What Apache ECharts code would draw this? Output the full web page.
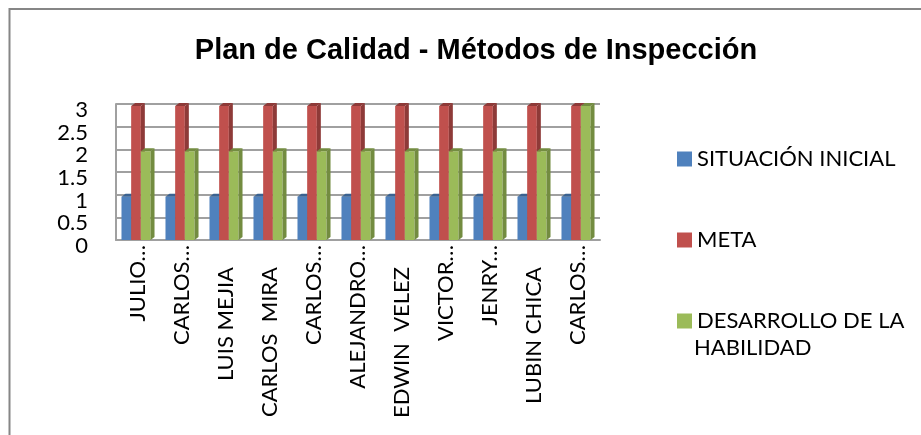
<!DOCTYPE html>
<html>
<head>
<meta charset="utf-8">
<script src="https://cdn.jsdelivr.net/npm/echarts@6/dist/echarts.min.js"></script>
<style>
  html, body { margin: 0; padding: 0; background: #fff; }
  #chart { width: 921px; height: 435px; }
</style>
</head>
<body>
<div id="chart"></div>
<script>
// datos del grafico
var categorias = ['JULIO…', 'CARLOS…', 'LUIS MEJIA', 'CARLOS  MIRA', 'CARLOS…', 'ALEJANDRO…',
                  'EDWIN  VELEZ', 'VICTOR…', 'JENRY…', 'LUBIN CHICA', 'CARLOS…'];
var nombres = ['SITUACIÓN INICIAL', 'META', 'DESARROLLO DE LA HABILIDAD'];
var situacionInicial = [1, 1, 1, 1, 1, 1, 1, 1, 1, 1, 1];
var meta = [3, 3, 3, 3, 3, 3, 3, 3, 3, 3, 3];
var desarrollo = [2, 2, 2, 2, 2, 2, 2, 2, 2, 2, 3];
var ticksY = [0, 0.5, 1, 1.5, 2, 2.5, 3];

var colores = ['#4F81BD', '#C0504D', '#9BBB59'];
var lados = ['#3A6291', '#8E3A38', '#738C40'];
var fuente = 'Lato, "Open Sans", sans-serif';

var myChart = echarts.init(document.getElementById('chart'));

// barra con efecto 3d (cara frontal + lado + tapa)
function barra3d(idx) {
    return function (params, api) {
        var cat = api.value(0), val = api.value(1);
        var p = api.coord([cat, val]);
        var p0 = api.coord([cat, 0]);
        var band = api.size([1, 0])[0];
        var groupW = band * 0.66, barW = groupW / 3;
        var x0 = p[0] - groupW / 2 + idx * barW - 2;
        var yt = p[1] + 2, yb = p0[1];
        var dx = 4, dy = -3;
        return {
            type: 'group',
            children: [
                { type: 'rect', shape: { x: x0, y: yt, width: barW, height: yb - yt },
                  style: { fill: colores[idx] } },
                { type: 'polygon', shape: { points: [[x0 + barW, yt], [x0 + barW + dx, yt + dy], [x0 + barW + dx, yb + dy], [x0 + barW, yb]] },
                  style: { fill: lados[idx] } },
                { type: 'polygon', shape: { points: [[x0, yt], [x0 + dx, yt + dy], [x0 + barW + dx, yt + dy], [x0 + barW, yt]] },
                  style: { fill: lados[idx] } }
            ]
        };
    };
}

var valores = [situacionInicial, meta, desarrollo];
var series = valores.map(function (arr, i) {
    return {
        name: nombres[i],
        type: 'custom',
        renderItem: barra3d(i),
        itemStyle: { color: colores[i] },
        encode: { x: 0, y: 1 },
        data: arr.map(function (v, k) { return [k, v]; })
    };
});

var option = {
    backgroundColor: '#fff',
    animation: false,
    title: {
        text: 'Plan de Calidad - Métodos de Inspección',
        left: 471, top: 31, textAlign: 'center',
        textStyle: { fontFamily: 'Liberation Sans, Arial, sans-serif', fontSize: 29, fontWeight: 'bold', color: '#000' }
    },
    legend: {
        orient: 'vertical',
        left: 672, top: 140,
        itemWidth: 15, itemHeight: 15, itemGap: 53,
        icon: 'rect',
        data: nombres,
        formatter: function (n) { return n === nombres[2] ? 'DESARROLLO DE LA' : n; },
        textStyle: { fontFamily: fuente, fontSize: 22, color: '#000', lineHeight: 28 }
    },
    graphic: [
        { type: 'rect', shape: { x: 9.5, y: 9, width: 1000, height: 1000 },
          style: { fill: 'none', stroke: '#868686', lineWidth: 2 }, silent: true },
        { type: 'text', left: 694, top: 337,
          style: { text: 'HABILIDAD', font: '22px ' + fuente, fill: '#000' } }
    ],
    grid: { left: 116, right: 321, top: 104, bottom: 195 },
    xAxis: {
        type: 'category',
        data: categorias,
        axisLine: { show: true, lineStyle: { color: '#A0A0A0', width: 2 } },
        axisTick: { show: false },
        axisLabel: {
            rotate: 90, interval: 0, margin: 5,
            fontFamily: fuente, fontSize: 22, color: '#000',
            formatter: function (v) {
                return v.indexOf('…') >= 0 ? '{t|' + v + '}' : '{f|' + v + '}';
            },
            rich: {
                t: { fontFamily: fuente, fontSize: 22, color: '#000' },
                f: { fontFamily: fuente, fontSize: 22, color: '#000', padding: [0, 22, 0, 0] }
            }
        }
    },
    yAxis: {
        type: 'value',
        min: ticksY[0], max: ticksY[ticksY.length - 1], interval: 0.5,
        axisLine: { show: true, lineStyle: { color: '#A0A0A0', width: 2 } },
        axisTick: { show: false },
        splitLine: { lineStyle: { color: '#A0A0A0', width: 2 } },
        axisLabel: {
            margin: 28, color: '#000',
            formatter: function (v) { return '{n|' + v + '}'; },
            rich: { n: { fontFamily: fuente, fontSize: 22, color: '#000', padding: [12, 0, 0, 0] } }
        }
    },
    series: series
};

myChart.setOption(option);
</script>
</body>
</html>
